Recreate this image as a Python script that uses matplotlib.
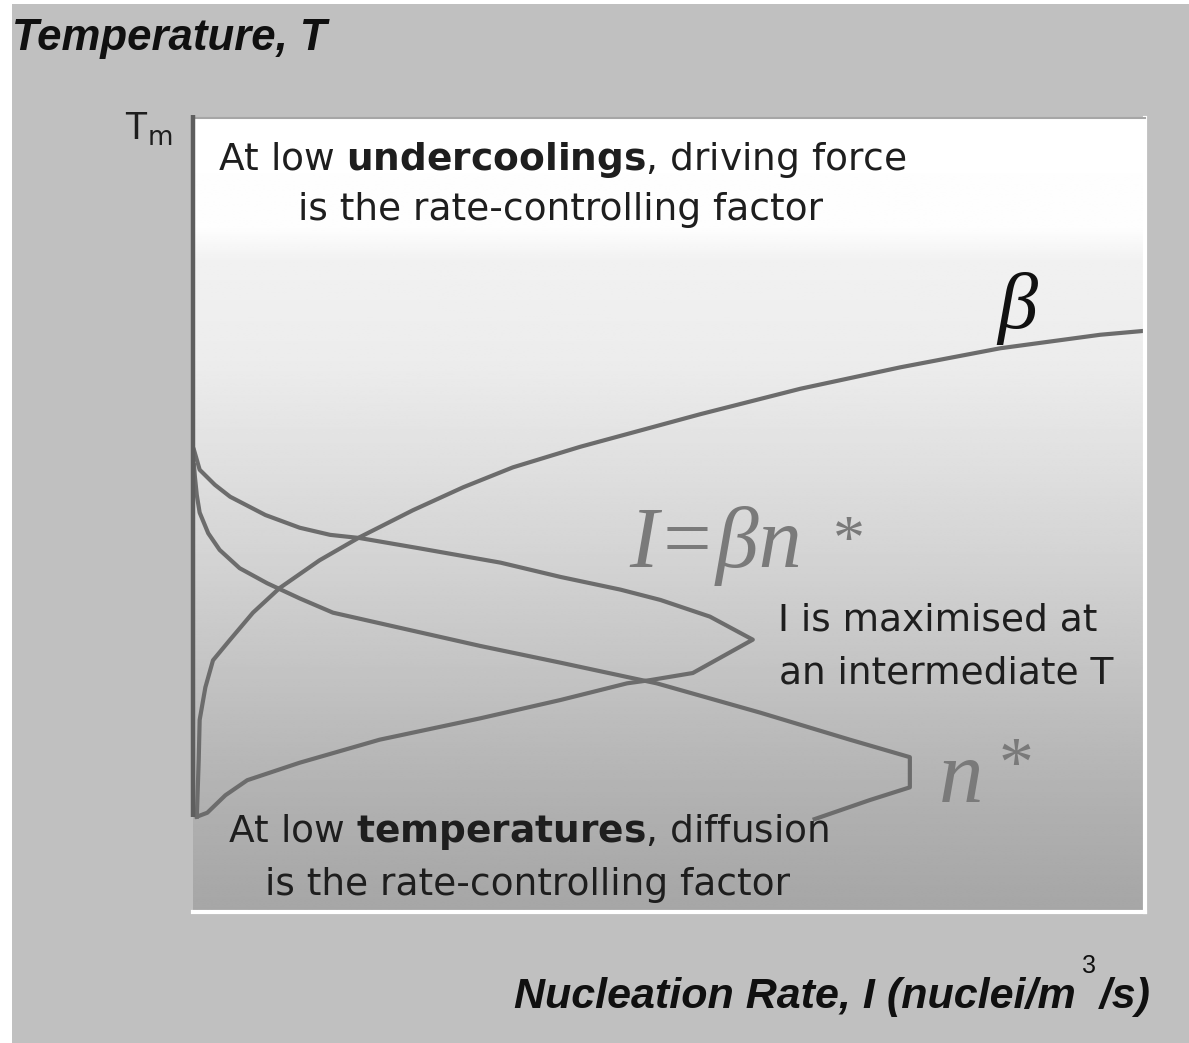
import numpy as np
import matplotlib
matplotlib.use("Agg")
import matplotlib.pyplot as plt
from matplotlib.patches import Rectangle

plt.rcParams['font.family'] = ['DejaVu Sans']
plt.rcParams['mathtext.fontset'] = 'dejavusans'

# nucleation rate (arbitrary units) vs temperature (arbitrary units, Tm at top)
beta_rate = [0.4, 0.6, 0.7, 1.3, 2.1, 3.9, 6.3, 9.1, 13.3, 17.5, 23.1, 28.4,
             33.6, 40.7, 53.3, 63.8, 74.3, 84.8, 95.3, 100.0]
beta_temp = [12.0, 19.1, 24.2, 28.3, 31.7, 34.3, 37.7, 40.8, 44.3, 47.2, 50.6, 53.5,
             56.0, 58.6, 62.7, 65.9, 68.6, 71.0, 72.7, 73.2]

nstar_rate = [0.1, 0.2, 0.4, 0.7, 1.6, 2.8, 4.9, 7.8, 11.2, 14.7, 21.7, 30.2,
              38.6, 48.7, 59.6, 69.0, 75.3, 75.3, 71.1, 65.3]
nstar_temp = [56.3, 54.8, 52.5, 50.3, 47.7, 45.6, 43.3, 41.4, 39.5, 37.7, 35.8, 33.5,
              31.4, 28.8, 25.1, 21.7, 19.5, 15.7, 14.1, 11.7]

irate_rate = [0.1, 0.7, 2.3, 3.9, 7.6, 11.2, 14.4, 17.5, 23.8, 32.3, 38.6, 44.9,
              49.1, 54.3, 58.8, 52.5, 48.0, 45.6, 38.6, 30.2, 19.6, 11.2, 5.7, 3.4,
              1.5, 0.4]
irate_temp = [58.2, 55.7, 53.8, 52.3, 50.0, 48.4, 47.5, 47.1, 45.8, 44.0, 42.2, 40.6,
              39.3, 37.2, 34.3, 30.1, 29.2, 28.8, 26.7, 24.4, 21.7, 18.8, 16.6, 14.7,
              12.5, 12.0]

curve_color = '#6c6c6c'
text_color = '#1e1e1e'

fig = plt.figure(figsize=(11.89, 10.43), dpi=100, facecolor='#c0c0c0')
W, H = 1189, 1043

# thin white margin on the left and top
fig.patches.append(Rectangle((0, 0), 12 / W, 1, transform=fig.transFigure,
                             facecolor='white', edgecolor='none', zorder=-1))
fig.patches.append(Rectangle((0, 1 - 4 / H), 1, 4 / H, transform=fig.transFigure,
                             facecolor='white', edgecolor='none', zorder=-1))

ax = fig.add_axes([193 / W, 1 - 912 / H, 952 / W, 794 / H])

# vertical shading: white at the top fading to grey at the bottom
stop_pos = [0, 14, 18, 31, 45, 55, 72, 87, 100]
stop_val = [255, 253, 241, 236, 222, 212, 193, 176, 166]
rows = np.linspace(0, 100, 400)
shade = np.interp(rows, stop_pos, stop_val) / 255.0
img = np.repeat(shade[:, None], 2, axis=1)
ax.imshow(img, cmap='gray', vmin=0, vmax=1, extent=[0, 100, 0, 100],
          aspect='auto', zorder=0, interpolation='bilinear')
ax.set_xlim(0, 100)
ax.set_ylim(0, 100)
ax.set_xticks([])
ax.set_yticks([])

ax.spines['left'].set_visible(False)
ax.spines['top'].set_color('#a6a6a6')
ax.spines['top'].set_linewidth(1.5)
ax.spines['right'].set_color('white')
ax.spines['right'].set_linewidth(3)
ax.spines['bottom'].set_color('white')
ax.spines['bottom'].set_linewidth(3)

# temperature axis
ax.plot([0.0, 0.0], [12.0, 100.4], color='#5e5e5e', lw=3.2, clip_on=False,
        solid_capstyle='butt', zorder=3)

ax.plot(beta_rate, beta_temp, color=curve_color, lw=3, zorder=2)
ax.plot(nstar_rate, nstar_temp, color=curve_color, lw=3, zorder=2)
ax.plot(irate_rate, irate_temp, color=curve_color, lw=3, zorder=2)

fs = 27
ax.text(2.6, 93.4, r"At low $\mathbf{undercoolings}$, driving force", fontsize=fs,
        color=text_color, va='baseline', zorder=4)
ax.text(11.0, 87.1, "is the rate-controlling factor", fontsize=fs,
        color=text_color, va='baseline', zorder=4)
ax.text(3.7, 8.8, r"At low $\mathbf{temperatures}$, diffusion", fontsize=fs,
        color=text_color, va='baseline', zorder=4)
ax.text(7.6, 2.1, "is the rate-controlling factor", fontsize=fs,
        color=text_color, va='baseline', zorder=4)
ax.text(61.4, 35.5, "I is maximised at", fontsize=fs,
        color=text_color, va='baseline', zorder=4)
ax.text(61.6, 28.8, "an intermediate T", fontsize=fs,
        color=text_color, va='baseline', zorder=4)

serif = ['Liberation Serif', 'DejaVu Serif']
ax.text(84.5, 73.5, "β", fontsize=58, family=serif, style='italic',
        color='#111111', va='baseline', zorder=4)
ax.text(45.8, 43.4, "I=βn", fontsize=62, family=serif, style='italic',
        color='#7a7a7a', va='baseline', zorder=4)
ax.text(67.2, 44.5, "*", fontsize=46, family=serif,
        color='#7a7a7a', va='baseline', zorder=4)
ax.text(78.3, 13.8, "n", fontsize=64, family=serif, style='italic',
        color='#7a7a7a', va='baseline', zorder=4)
ax.text(84.6, 16.0, "*", fontsize=50, family=serif,
        color='#7a7a7a', va='baseline', zorder=4)

# axis titles
title_font = ['Liberation Sans', 'DejaVu Sans']
fig.text(12 / W, 1 - 50 / H, "Temperature, T", fontsize=31.5, weight='bold',
         style='italic', color='#101010', va='baseline', family=title_font)
fig.text(1150 / W, 1 - 1008 / H, "Nucleation Rate, I (nuclei/m  /s)",
         fontsize=31, weight='bold', style='italic', color='#101010',
         va='baseline', ha='right', family=title_font)
fig.text(1082 / W, 1 - 973 / H, "3", fontsize=18, color='#101010',
         va='baseline', family=title_font)
fig.text(124 / W, 1 - 140 / H, r"T$_{\mathrm{m}}$", fontsize=27, color=text_color,
         va='baseline', family=title_font)

fig.savefig("out.png", dpi=100, facecolor=fig.get_facecolor())
